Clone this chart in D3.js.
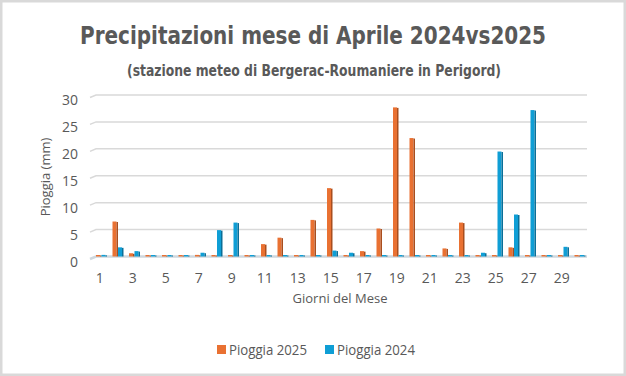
<!DOCTYPE html>
<html>
<head>
<meta charset="utf-8">
<script src="https://cdn.jsdelivr.net/npm/d3@7"></script>
<style>
  html, body { margin: 0; padding: 0; background: #fff; }
  svg { display: block; }
  .tick-label { font-family: "Open Sans", sans-serif; font-size: 14px; fill: #595959; }
</style>
</head>
<body>
<svg id="chart"></svg>
<script>
const days = [1, 2, 3, 4, 5, 6, 7, 8, 9, 10, 11, 12, 13, 14, 15, 16, 17, 18, 19, 20, 21, 22, 23, 24, 25, 26, 27, 28, 29, 30];
const dayLabels = [1, 3, 5, 7, 9, 11, 13, 15, 17, 19, 21, 23, 25, 27, 29];
const rain2025 = [0.1, 6.5, 0.6, 0, 0, 0, 0.3, 0, 0, 0, 2.3, 3.5, 0.2, 6.8, 12.7, 0.1, 1.0, 5.2, 27.7, 22.0, 0.2, 1.5, 6.3, 0.1, 0.2, 1.7, 0.2, 0.2, 0, 0.2];
const rain2024 = [0.3, 1.7, 1.0, 0, 0, 0, 0.7, 4.9, 6.3, 0, 0.2, 0.2, 0.2, 0, 1.1, 0.7, 0.1, 0.2, 0, 0, 0.1, 0.1, 0, 0.7, 19.5, 7.8, 27.2, 0, 1.8, 0.2];
const yTicks = [0, 5, 10, 15, 20, 25, 30];
const seriesNames = ["Pioggia 2025", "Pioggia 2024"];

const W = 626, H = 376;
const colors = { "Pioggia 2025": "#E97132", "Pioggia 2024": "#0F9ED5" };
const sides = { "Pioggia 2025": "#a94e1e", "Pioggia 2024": "#0a6f98" };

const svg = d3.select("#chart").attr("width", W).attr("height", H);

// frame
svg.append("rect").attr("x", 1).attr("y", 1).attr("width", W - 2).attr("height", H - 2)
   .attr("fill", "#fff").attr("stroke", "#d9d9d9").attr("stroke-width", 3);

// titles (condensed look squeezed to the reference width)
svg.append("text").attr("x", 313).attr("y", 44).attr("text-anchor", "middle")
   .style("font-family", "'DejaVu Sans Condensed', 'DejaVu Sans', sans-serif").style("font-weight", "bold")
   .style("font-size", "25px").attr("fill", "#595959")
   .attr("textLength", 466).attr("lengthAdjust", "spacingAndGlyphs")
   .text("Precipitazioni mese di Aprile 2024vs2025");
svg.append("text").attr("x", 314).attr("y", 76).attr("text-anchor", "middle")
   .style("font-family", "'DejaVu Sans Condensed', 'DejaVu Sans', sans-serif").style("font-weight", "bold")
   .style("font-size", "15px").attr("fill", "#595959")
   .attr("textLength", 374).attr("lengthAdjust", "spacingAndGlyphs")
   .text("(stazione meteo di Bergerac-Roumaniere in Perigord)");

const x = d3.scaleBand().domain(days).range([92, 587]).paddingInner(0).paddingOuter(0);
const y = d3.scaleLinear().domain([0, 30]).range([256.5, 95]);
const sub = d3.scaleBand().domain(seriesNames).range([0, 11]).padding(0);

// gridlines with a small 3D stub
const grid = svg.append("g");
yTicks.forEach(t => {
    grid.append("path")
        .attr("d", `M${x.range()[0] - 2},${y(t) + 2.5} L${x.range()[0] + 4},${y(t)} L${x.range()[1]},${y(t)}`)
        .attr("fill", "none").attr("stroke", t === 0 ? "#cfd8de" : "#d9d9d9").attr("stroke-width", t === 0 ? 2.5 : 1.5);
});

// y tick labels
svg.append("g").selectAll("text").data(yTicks).enter().append("text")
   .attr("class", "tick-label").attr("x", 78).attr("y", d => y(d) + 10).attr("text-anchor", "end")
   .text(d => d);

// x tick labels
svg.append("g").selectAll("text").data(dayLabels).enter().append("text")
   .attr("class", "tick-label").attr("x", d => x(d) + x.bandwidth() / 2 - 0.5).attr("y", 283).attr("text-anchor", "middle")
   .text(d => d);

// axis titles
svg.append("text").attr("transform", `translate(50,177) rotate(-90)`).attr("text-anchor", "middle")
   .attr("class", "tick-label").style("font-size", "13px").text("Pioggia (mm)");
svg.append("text").attr("x", 340).attr("y", 303).attr("text-anchor", "middle")
   .attr("class", "tick-label").style("font-size", "13px").text("Giorni del Mese");

// bars
const rows = days.map((d, i) => ({ day: d, "Pioggia 2025": rain2025[i], "Pioggia 2024": rain2024[i] }));
const groups = svg.append("g").selectAll("g").data(rows).enter().append("g")
   .attr("transform", d => `translate(${x(d.day) + 4},0)`);

seriesNames.forEach(name => {
    const w = sub.bandwidth() - 1.5;
    const top = d => Math.min(y(d[name]), y(0) - 1.5);
    groups.append("rect")
        .attr("x", sub(name)).attr("y", top)
        .attr("width", w).attr("height", d => y(0) - top(d))
        .attr("fill", colors[name]);
    groups.append("rect")
        .attr("x", sub(name) + w).attr("y", d => top(d) + 0.5)
        .attr("width", 1.5).attr("height", d => Math.max(0, y(0) - top(d) - 0.5))
        .attr("fill", sides[name]);
});

// legend
const legend = svg.append("g");
const legX = [217, 325];
seriesNames.forEach((name, i) => {
    legend.append("rect").attr("x", legX[i]).attr("y", 345).attr("width", 9).attr("height", 9).attr("fill", colors[name]);
    legend.append("text").attr("class", "tick-label").attr("x", legX[i] + 12).attr("y", 355)
        .attr("textLength", 78).attr("lengthAdjust", "spacingAndGlyphs").text(name);
});
</script>
</body>
</html>
